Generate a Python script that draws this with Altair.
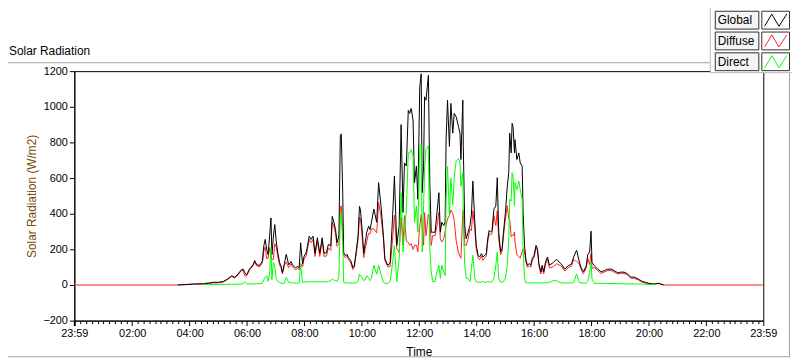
import altair as alt
import pandas as pd

# ---------------- data ----------------
times = ["03:35","03:50","04:08","04:29","04:40","04:50","05:00","05:10","05:17","05:24",
         "05:28","05:34","05:41","05:48","05:52","05:55","05:59","06:05","06:13","06:16",
         "06:20","06:26","06:32","06:35","06:38","06:41","06:44","06:47","06:50","06:52",
         "06:55","06:58","07:01","07:04","07:08","07:11","07:14","07:18","07:22","07:27",
         "07:32","07:35","07:41","07:46","07:49","07:52","07:56","07:59","08:04","08:10",
         "08:14","08:18","08:22","08:27","08:32","08:37","08:41","08:46","08:50","08:55",
         "08:58","09:01","09:05","09:08","09:12","09:15","09:17","09:20","09:22","09:26",
         "09:29","09:32","09:37","09:41","09:44","09:47","09:52","09:55","09:57","10:00",
         "10:04","10:07","10:10","10:14","10:17","10:20","10:25","10:31","10:35","10:40",
         "10:45","10:48","10:54","10:59","11:04","11:08","11:13","11:18","11:22","11:26",
         "11:29","11:33","11:37","11:40","11:43","11:47","11:50","11:54","11:57","12:01",
         "12:04","12:06","12:09","12:11","12:14","12:19","12:22","12:25","12:28","12:33",
         "12:37","12:41","12:44","12:47","12:51","12:54","12:56","12:59","13:03","13:06",
         "13:10","13:13","13:17","13:22","13:25","13:27","13:31","13:32","13:35","13:38",
         "13:42","13:46","13:49","13:52","13:56","13:59","14:03","14:06","14:10","14:13",
         "14:17","14:20","14:23","14:26","14:29","14:32","14:36","14:40","14:43","14:46",
         "14:50","14:53","14:56","15:00","15:04","15:07","15:09","15:12","15:14","15:16",
         "15:19","15:20","15:24","15:28","15:31","15:35","15:37","15:40","15:43","15:46",
         "15:50","15:53","15:56","16:00","16:04","16:07","16:10","16:14","16:17","16:20",
         "16:24","16:28","16:32","16:40","16:47","16:50","16:57","17:04","17:11","17:18",
         "17:23","17:27","17:29","17:34","17:38","17:43","17:49","17:52","17:56","17:59",
         "18:01","18:06","18:13","18:20","18:27","18:34","18:41","18:47","18:55","19:01",
         "19:08","19:15","19:22","19:29","19:38","19:46","19:53","20:00","20:10","20:14",
         "20:20","20:31"]

global_wm2 = [0,2,5,7,11,15,15,19,30,43,
              52,43,61,85,89,70,56,89,115,137,
              115,109,133,219,256,200,170,270,376,170,
              270,339,245,185,126,107,70,120,172,113,
              131,113,96,104,96,237,117,159,185,274,
              256,274,178,265,178,265,178,181,228,219,
              385,359,311,237,274,839,848,515,181,163,
              172,154,135,98,107,163,274,441,422,330,
              178,237,293,330,311,352,426,352,574,444,
              278,148,111,122,370,611,222,333,900,407,
              685,667,981,963,991,926,574,667,481,1111,
              1185,518,667,1056,1037,1176,574,296,296,296,
              407,518,296,352,333,352,815,1037,778,1019,
              852,963,944,889,852,704,1037,778,333,259,
              296,333,398,583,352,222,167,157,176,157,
              167,176,259,306,296,306,426,444,602,296,
              185,204,296,407,556,630,852,741,907,889,
              741,815,704,741,685,667,407,222,139,111,
              120,111,148,167,222,204,120,74,111,74,
              130,157,111,126,144,135,117,89,107,117,
              159,185,194,135,98,74,107,169,185,302,
              126,107,89,74,81,89,89,81,68,72,
              72,63,44,44,33,20,15,9,6,8,
              9,0]

direct_wm2 = [None,None,None,2,2,3,3,3,3,4,
              4,4,5,5,8,18,6,6,6,7,
              7,7,10,30,43,52,20,60,209,30,
              126,107,33,20,15,10,8,10,43,15,
              12,11,11,11,11,117,15,15,18,18,
              18,18,18,18,18,18,18,18,20,25,
              33,28,24,20,43,400,404,237,15,11,
              11,11,11,11,11,11,20,61,50,43,
              24,30,52,40,24,37,111,60,111,60,
              15,9,9,20,120,220,19,150,518,185,
              296,420,741,740,759,726,352,444,296,780,
              790,185,444,650,760,780,200,74,19,19,
              74,111,37,111,74,52,481,667,389,599,
              450,600,694,709,692,554,630,358,111,37,
              37,19,93,167,37,19,15,15,15,19,
              15,15,19,19,15,19,37,111,185,37,
              15,15,19,37,111,259,481,471,630,611,
              444,574,534,583,535,481,204,37,12,12,
              12,12,12,12,12,12,12,12,12,12,
              12,12,15,24,24,20,11,11,11,11,
              15,52,61,15,11,11,11,20,70,126,
              33,9,9,9,8,8,8,8,7,7,
              7,6,6,6,5,5,4,3,3,3,
              None,None]

diffuse_wm2 = [0,2,5,5,9,12,12,16,27,39,
               48,39,56,80,81,52,50,83,109,130,
               108,102,123,189,213,148,150,210,167,140,
               144,232,212,165,111,97,62,110,129,98,
               119,102,85,93,85,120,102,144,167,256,
               238,256,160,247,160,247,160,163,208,194,
               352,331,287,217,231,439,444,278,166,152,
               161,143,124,87,96,152,254,380,372,287,
               154,207,241,290,287,315,315,292,463,384,
               263,139,102,102,250,391,203,183,382,222,
               389,247,240,223,232,200,222,223,185,331,
               395,333,223,406,277,396,374,222,277,277,
               333,407,259,241,259,300,334,370,389,420,
               402,363,250,180,160,150,407,420,222,222,
               259,314,305,416,315,203,152,142,161,138,
               152,161,240,287,281,287,389,333,417,259,
               170,189,277,370,445,371,371,270,277,278,
               297,241,170,158,150,186,203,185,127,99,
               108,99,136,155,210,192,108,62,99,62,
               118,145,96,102,120,115,106,78,96,106,
               144,133,133,120,87,63,96,149,115,176,
               93,98,80,65,73,81,81,73,61,65,
               65,57,38,38,28,15,11,6,3,5,
               9,0]

# Diffuse is also logged (as zero) through the night, over the whole axis span
night_times = ["23:59", "23:59"]   # start of the axis (previous day) and end of the axis
night_diffuse = [0, 0]

series_names = ["Global", "Diffuse", "Direct"]
series_colors = ["#000000", "#ff2020", "#00ff00"]

y_ticks = [-200, 0, 200, 400, 600, 800, 1000, 1200]
x_label_hours = [2, 4, 6, 8, 10, 12, 14, 16, 18, 20, 22]

# ---------------- build table ----------------
def to_min(s):
    h, m = s.split(":")
    return int(h) * 60 + int(m)

rows = []
rows.append({"m": to_min(night_times[0]) - 1440, "v": night_diffuse[0], "s": "Diffuse"})
for t, g, d, f in zip(times, global_wm2, direct_wm2, diffuse_wm2):
    mm = to_min(t)
    rows.append({"m": mm, "v": g, "s": "Global"})
    rows.append({"m": mm, "v": f, "s": "Diffuse"})
    if d is not None:
        rows.append({"m": mm, "v": d, "s": "Direct"})
rows.append({"m": to_min(night_times[1]), "v": night_diffuse[1], "s": "Diffuse"})
df = pd.DataFrame(rows)

x_start = to_min(night_times[0]) - 1440
x_end = to_min(night_times[1])
major = [x_start] + [h * 60 for h in x_label_hours] + [x_end]
minor = [m for m in range(12, 1440, 12) if m % 120 != 0 and m < x_end]
tick_vals = sorted(set(major + minor))

FONT = "Liberation Sans"
major_test = "datum.value < 0 || datum.value > 1430 || datum.value % 120 == 0"

x_axis = alt.Axis(
    values=tick_vals,
    labelExpr=("datum.value < 0 || datum.value > 1430 ? '23:59' : "
               "(datum.value % 120 == 0 ? ((datum.value < 600 ? '0' : '') + (datum.value / 60) + ':00') : '')"),
    labelOverlap=False,
    labelFlush=False,
    tickSize={"condition": {"test": major_test, "value": 5}, "value": 3},
    tickWidth={"condition": {"test": "datum.value < 0", "value": 2}, "value": 1},
    tickColor="#000000",
    domainColor="#000000",
    labelColor="#000000",
    labelFont=FONT,
    labelFontSize=11,
    labelPadding=2,
    grid=False,
    title="Time",
    titleFont=FONT,
    titleFontSize=12,
    titleFontWeight="normal",
    titleColor="#000000",
    titlePadding=8,
)

y_axis = alt.Axis(
    values=y_ticks,
    format="d",
    tickSize=5,
    tickColor="#000000",
    domainColor="#000000",
    labelColor="#000000",
    labelFont=FONT,
    labelFontSize=11,
    labelPadding=2,
    grid=False,
    title="Solar Radiation (W/m2)",
    titleFont=FONT,
    titleFontSize=12,
    titleFontWeight="normal",
    titleColor="#7a4a12",
    titlePadding=4,
)

base = alt.Chart(df).encode(
    x=alt.X("m:Q", scale=alt.Scale(domain=[x_start, x_end], nice=False, zero=False), axis=x_axis),
    y=alt.Y("v:Q", scale=alt.Scale(domain=[-200, 1200], nice=False, zero=False), axis=y_axis),
    order=alt.Order("m:Q"),
)

draw_order = ["Diffuse", "Global", "Direct"]
line_layers = []
for name in draw_order:
    c = series_colors[series_names.index(name)]
    line_layers.append(
        base.transform_filter(alt.datum.s == name).mark_line(color=c, strokeWidth=1, interpolate="linear")
    )

one = pd.DataFrame({"k": [0]})

# decorations (pixel positions relative to plot area)
panel_title = alt.Chart(one).mark_text(
    text="Solar Radiation", align="left", baseline="middle", font=FONT, fontSize=12, color="#000000"
).encode(x=alt.value(-66), y=alt.value(-20))

frame_top = alt.Chart(one).mark_rule(color="#a0a0a0", strokeWidth=1).encode(
    x=alt.value(-70), x2=alt.value(642), y=alt.value(-8.5))
frame_right = alt.Chart(one).mark_rule(color="#a0a0a0", strokeWidth=1).encode(
    x=alt.value(722.5), y=alt.value(2), y2=alt.value(289))
frame_bottom = alt.Chart(one).mark_rule(color="#a0a0a0", strokeWidth=1).encode(
    x=alt.value(-70), x2=alt.value(723), y=alt.value(288.5))

legend_box = alt.Chart(one).mark_rect(fill="#ffffff", stroke="#b8b8b8", strokeWidth=1).encode(
    x=alt.value(642.5), x2=alt.value(740), y=alt.value(-80), y2=alt.value(1.5))

zig = "M-1,0.55L-0.35,-0.55L0.3,0.55L1,-0.55"
legend_layers = []
for i, name in enumerate(series_names):
    y0 = -61 + 21 * i
    ldf = pd.DataFrame({"name": [name]})
    legend_layers.append(alt.Chart(ldf).mark_rect(fill="#f4f4f4", stroke="#303030", strokeWidth=1).encode(
        x=alt.value(647.5), x2=alt.value(691.5), y=alt.value(y0 + 0.5), y2=alt.value(y0 + 18.5)))
    legend_layers.append(alt.Chart(ldf).mark_text(align="left", baseline="middle", font=FONT, fontSize=12,
                                                  color="#000000").encode(
        x=alt.value(650), y=alt.value(y0 + 9.5), text="name:N"))
    legend_layers.append(alt.Chart(ldf).mark_rect(fill="#ffffff", stroke="#303030", strokeWidth=1).encode(
        x=alt.value(694.5), x2=alt.value(722.5), y=alt.value(y0 + 0.5), y2=alt.value(y0 + 18.5)))
    legend_layers.append(alt.Chart(ldf).mark_point(shape=zig, filled=False, size=500, strokeWidth=1,
                                                   opacity=1).encode(
        x=alt.value(708.5), y=alt.value(y0 + 9.5), color=alt.value(series_colors[i])))

chart = alt.layer(
    *line_layers, panel_title, frame_top, frame_right, frame_bottom, legend_box, *legend_layers
).properties(
    width=696, height=252,
    padding={"left": 67, "top": 62, "right": 29, "bottom": 38},
    autosize=alt.AutoSizeParams(type="none"),
    background="#ffffff",
).configure_view(stroke="#000000", strokeWidth=1)

chart.save("out.html", embed_options={"renderer": "svg", "actions": False})
